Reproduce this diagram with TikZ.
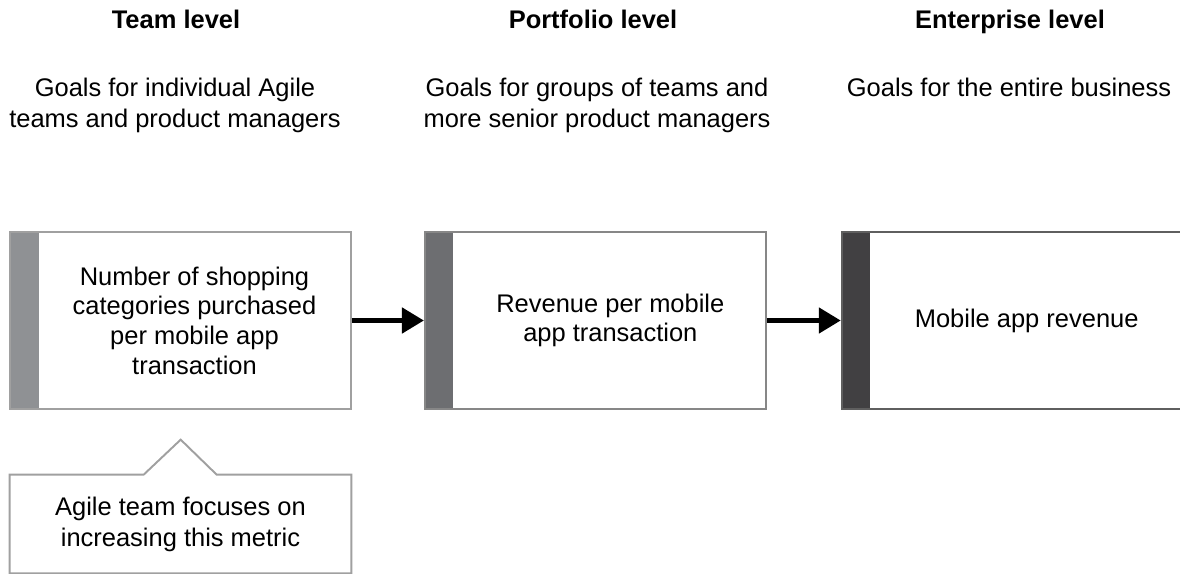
\documentclass[tikz,border=0pt]{standalone}
\usepackage{fontspec}
\setmainfont{Liberation Sans}
\usetikzlibrary{arrows.meta,positioning}
\definecolor{teambar}{RGB}{143,145,148}
\definecolor{portbar}{RGB}{109,110,113}
\definecolor{entbar}{RGB}{65,64,66}
\definecolor{teamline}{RGB}{160,160,160}
\definecolor{portline}{RGB}{135,135,135}
\definecolor{entline}{RGB}{95,95,95}

\begin{document}
\begin{tikzpicture}[
    x=0.02cm, y=-0.02cm,
    every node/.style={font=\fontsize{14.5pt}{17.6pt}\selectfont, inner sep=0pt},
    heading/.style={font=\fontsize{14.5pt}{17.6pt}\selectfont\bfseries, anchor=base},
    goals/.style={align=center, anchor=north},
    goalbox/.style 2 args={draw=#1, line width=1.1pt, minimum width=6.82cm, minimum height=3.54cm,
        path picture={\fill[#2] (path picture bounding box.north west) rectangle ([xshift=0.57cm]path picture bounding box.south west);}},
    boxtext/.style={align=center, font=\fontsize{14.5pt}{16.9pt}\selectfont},
    link/.style={line width=2.8pt, -{Triangle[length=0.44cm,width=0.5cm]}},
    notebox/.style={draw=teamline, line width=1.1pt},
  ]
  \useasboundingbox (0,0) rectangle (1180,574);

  \node[heading] (teamhead) at (176,29) {Team level};
  \node[heading] (porthead) at (593,29) {Portfolio level};
  \node[heading] (enthead) at (1010,29) {Enterprise level};

  \node[goals] (teamgoals) at (175,78) {Goals for individual Agile\\teams and product managers};
  \node[goals] (portgoals) at (597,78) {Goals for groups of teams and\\more senior product managers};
  \node[goals] (entgoals) at (1009,78) {Goals for the entire business};

  \node[goalbox={teamline}{teambar}] (team) at (180.5,320.5) {};
  \node[goalbox={portline}{portbar}] (port) [right=1.44cm of team] {};
  \node[goalbox={entline}{entbar}, minimum width=6.8cm] (ent) [right=1.48cm of port] {};

  \node[boxtext] (teamtext) at ([xshift=0.28cm]team.center) {Number of shopping\\categories purchased\\per mobile app\\transaction};
  \node[boxtext] (porttext) at ([xshift=0.3cm]port.center) {Revenue per mobile\\app transaction};
  \node[boxtext] (enttext) at ([xshift=0.3cm]ent.center) {Mobile app revenue};

  \draw[link] (team.east) -- (port.west);
  \draw[link] (port.east) -- (ent.west);

  \node[align=center, minimum width=6.82cm, minimum height=1.96cm] (note) at (180.5,524) {Agile team focuses on\\increasing this metric};
  \draw[notebox] (note.north west) -- ++(134,0) -- ++(37,-35) -- ++(36,35) -- (note.north east)
    -- (note.south east) -- (note.south west) -- cycle;
\end{tikzpicture}
\end{document}
